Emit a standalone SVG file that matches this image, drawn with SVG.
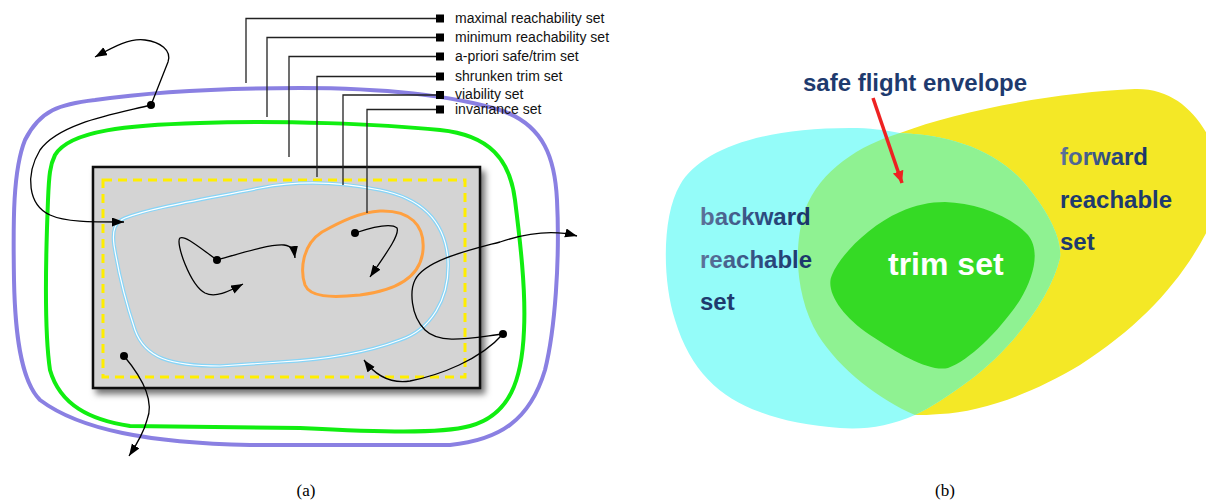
<svg xmlns="http://www.w3.org/2000/svg" width="1206" height="501" viewBox="0 0 1206 501">
<style>
.lbl{font-family:"Liberation Sans",Arial,sans-serif;font-size:14px;fill:#111}
.lead{fill:none;stroke:#222;stroke-width:1.3}
.sq{fill:#000}
.traj{fill:none;stroke:#000;stroke-width:1.3}
.dot{fill:#000}
.cap{font-family:"Liberation Serif","Times New Roman",serif;font-size:17px;fill:#000;text-anchor:middle}
.bt{font-family:"Liberation Sans",Arial,sans-serif;font-weight:bold;font-size:24px;fill:#1e3a6e}
.gt{fill:url(#tg)}
</style>
<defs>
<marker id="ah" markerUnits="userSpaceOnUse" markerWidth="13" markerHeight="10" refX="12" refY="4.5" orient="auto">
<path d="M0,0 L12,4.5 L0,9 z" fill="#000"/>
</marker>
<marker id="rah" markerUnits="userSpaceOnUse" markerWidth="14" markerHeight="12" refX="12" refY="5.5" orient="auto">
<path d="M0,0 L12,5.5 L0,11 z" fill="#ee2222"/>
</marker>
<filter id="sh" x="-10%" y="-10%" width="125%" height="130%">
<feDropShadow dx="4" dy="5" stdDeviation="3" flood-color="#000" flood-opacity="0.55"/>
</filter>
<linearGradient id="tg" x1="0" y1="0" x2="1" y2="0">
<stop offset="0" stop-color="#5d7299"/>
<stop offset="0.6" stop-color="#2c4a7e"/>
<stop offset="1" stop-color="#1a3468"/>
</linearGradient>
</defs>

<!-- panel (a) -->
<g id="maximal-reachability-set">
<path d="M 95,100 C 150,92 220,88 300,88 C 380,88 450,95 500,110 C 545,125 555,160 557,200 C 560,260 555,330 545,370 C 530,420 500,440 450,445 L 250,445 C 150,443 80,430 40,400 C 20,380 15,330 14,280 C 13,220 13,170 25,140 C 40,110 60,104 95,100 Z" fill="none" stroke="#8a80e2" stroke-width="4"/>
</g>
<g id="minimum-reachability-set">
<path d="M 55,155 C 70,130 130,125 200,123 C 280,120 380,124 440,130 C 490,135 510,160 515,200 C 520,240 526,290 524,330 C 522,380 510,415 470,426 C 440,434 380,432 300,428 L 130,426 C 90,420 60,405 50,370 C 44,330 46,250 48,200 C 49,175 50,165 55,155 Z" fill="none" stroke="#11ee11" stroke-width="4"/>
</g>
<g id="apriori-safe-trim-set">
<rect x="93" y="167" width="387" height="221" fill="#d4d4d4" stroke="#111" stroke-width="2.5" filter="url(#sh)"/>
</g>
<g id="shrunken-trim-set">
<rect x="103" y="180" width="362" height="197" fill="none" stroke="#ffee00" stroke-width="3" stroke-dasharray="9,6"/>
</g>
<g id="viability-set">
<path d="M 125,218 C 150,208 200,200 260,188 C 300,180 340,182 380,190 C 420,198 445,220 448,260 C 450,300 430,330 400,340 C 360,355 320,360 280,362 L 220,366 C 170,366 145,358 135,330 C 125,300 118,270 114,245 C 112,230 115,222 125,218 Z" fill="none" stroke="#88d4f6" stroke-width="3.6"/>
<path d="M 125,218 C 150,208 200,200 260,188 C 300,180 340,182 380,190 C 420,198 445,220 448,260 C 450,300 430,330 400,340 C 360,355 320,360 280,362 L 220,366 C 170,366 145,358 135,330 C 125,300 118,270 114,245 C 112,230 115,222 125,218 Z" fill="none" stroke="#fff" stroke-width="1.2"/>
</g>
<g id="invariance-set">
<path d="M 322,232 C 340,222 360,212 380,211 C 410,210 425,225 423,250 C 421,275 400,290 360,295 C 330,298 310,297 305,285 C 300,270 302,245 322,232 Z" fill="none" stroke="#ffa040" stroke-width="3"/>
</g>

<!-- panel (b) shapes -->
<g id="forward-reachable-set">
<path d="M 900,133 C 960,110 1060,92 1135,89 C 1175,88 1200,115 1215,150 L 1215,215 C 1190,270 1150,320 1080,365 C 1030,395 980,412 940,414 C 930,415 922,415 915,415 C 880,400 840,370 818,335 C 797,300 792,250 805,210 C 820,170 860,145 900,133 Z" fill="#f4e826"/>
</g>
<g id="backward-reachable-set">
<path d="M 850,128 C 870,128 885,130 900,133 C 950,135 1000,150 1030,190 C 1050,215 1062,240 1060,258 C 1050,300 1010,350 970,380 C 950,395 930,408 915,415 C 890,426 865,430 840,428 C 810,426 780,420 760,412 C 720,398 690,370 675,320 C 662,280 662,215 680,185 C 700,150 760,128 850,128 Z" fill="#94fcf9"/>
</g>
<g id="safe-flight-envelope">
<path d="M 900,133 C 950,135 1000,150 1030,190 C 1050,215 1062,240 1060,258 C 1050,300 1010,350 970,380 C 950,395 930,408 915,415 C 880,400 840,370 818,335 C 797,300 792,250 805,210 C 820,170 860,145 900,133 Z" fill="#8ff292"/>
</g>
<g id="trim-set">
<path d="M 945,202 C 975,203 1010,215 1028,235 C 1040,250 1035,275 1020,300 C 1000,330 970,360 948,368 C 930,372 900,355 870,335 C 840,315 825,290 832,275 C 840,255 870,225 900,212 C 915,205 930,202 945,202 Z" fill="#35da25"/>
<text x="888" y="275" font-family="Liberation Sans, Arial, sans-serif" font-weight="bold" font-size="32" fill="#fff">trim set</text>
</g>

<g id="connectors">
<path class="lead" d="M246,83 V18.5 H437"/>
<path class="lead" d="M267,117 V37.5 H437"/>
<path class="lead" d="M289,157 V56.5 H437"/>
<path class="lead" d="M317,177 V76.5 H437"/>
<path class="lead" d="M343,185 V95 H437"/>
<path class="lead" d="M367,213 V109.5 H437"/>
<rect class="sq" x="436" y="14.5" width="8" height="8"/>
<rect class="sq" x="436" y="33.5" width="8" height="8"/>
<rect class="sq" x="436" y="52.5" width="8" height="8"/>
<rect class="sq" x="436" y="72.5" width="8" height="8"/>
<rect class="sq" x="436" y="91" width="8" height="8"/>
<rect class="sq" x="436" y="105.5" width="8" height="8"/>

<path class="traj" marker-end="url(#ah)" d="M151,105 L 168,62 C 172,50 160,42 145,40 C 130,38 115,46 95,57"/>
<path class="traj" marker-end="url(#ah)" d="M151,105 C 120,113 60,122 40,150 C 25,175 28,205 50,215 C 65,222 90,222 124,222"/>
<path class="traj" marker-end="url(#ah)" d="M217,260 C 245,252 270,244 284,245 C 292,246 294,250 295,258"/>
<path class="traj" marker-end="url(#ah)" d="M217,260 C 200,248 185,235 180,238 C 175,242 190,285 205,293 C 215,298 228,292 243,284"/>
<path class="traj" marker-end="url(#ah)" d="M355,233 C 370,228 390,222 397,228 C 400,235 385,255 370,277"/>
<path class="traj" marker-end="url(#ah)" d="M503,334 C 470,338 440,345 425,330 C 410,315 410,290 415,280 C 425,260 470,250 500,242 C 530,232 555,230 577,236"/>
<path class="traj" marker-end="url(#ah)" d="M503,334 C 480,360 440,375 410,381 C 390,384 375,375 364,360"/>
<path class="traj" marker-end="url(#ah)" d="M124,356 C 140,375 155,400 147,420 C 143,435 135,447 129,456"/>
<circle class="dot" cx="151" cy="105" r="4"/>
<circle class="dot" cx="217" cy="260" r="4"/>
<circle class="dot" cx="355" cy="233" r="4"/>
<circle class="dot" cx="503" cy="334" r="4"/>
<circle class="dot" cx="124" cy="356" r="4"/>

<line x1="873" y1="98" x2="902" y2="183" stroke="#ee2222" stroke-width="3.5" marker-end="url(#rah)"/>
</g>

<g id="labels-a">
<text class="lbl" x="455" y="23">maximal reachability set</text>
<text class="lbl" x="455" y="42">minimum reachability set</text>
<text class="lbl" x="455" y="61">a-priori safe/trim set</text>
<text class="lbl" x="455" y="80.5">shrunken trim set</text>
<text class="lbl" x="455" y="98.5">viability set</text>
<text class="lbl" x="455" y="114">invariance set</text>
<text class="cap" x="306" y="496">(a)</text>
</g>

<g id="labels-b">
<text class="bt" x="803" y="91">safe flight envelope</text>
<text class="bt gt" x="700" y="225">backward</text>
<text class="bt gt" x="700" y="268">reachable</text>
<text class="bt" x="700" y="310">set</text>
<text class="bt gt" x="1060" y="165">forward</text>
<text class="bt" x="1060" y="208">reachable</text>
<text class="bt" x="1060" y="250">set</text>
<text class="cap" x="945" y="496">(b)</text>
</g>
</svg>
